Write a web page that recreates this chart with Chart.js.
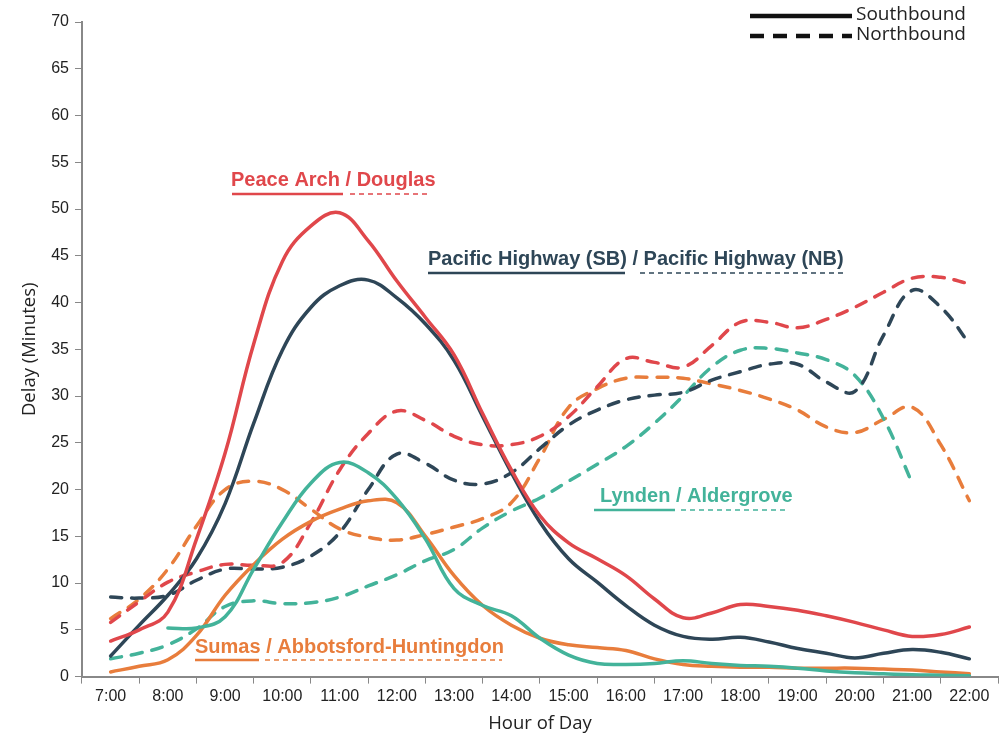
<!DOCTYPE html>
<html>
<head>
<meta charset="utf-8">
<script src="https://cdn.jsdelivr.net/npm/chart.js@4.4.1/dist/chart.umd.min.js"></script>
<style>
  html, body { margin: 0; padding: 0; background: #fff; }
  #wrap { width: 1005px; height: 740px; }
</style>
</head>
<body>
<div id="wrap"><canvas id="chart" width="1005" height="740"></canvas></div>
<script>
// 시간축 (30분 단위) ==========================
const times = [7, 7.5, 8, 8.5, 9, 9.5, 10, 10.5, 11, 11.5, 12, 12.5, 13, 13.5, 14, 14.5,
  15, 15.5, 16, 16.5, 17, 17.5, 18, 18.5, 19, 19.5, 20, 20.5, 21, 21.5, 22];
const hourLabels = ["7:00", "8:00", "9:00", "10:00", "11:00", "12:00", "13:00", "14:00",
  "15:00", "16:00", "17:00", "18:00", "19:00", "20:00", "21:00", "22:00"];

// Southbound (실선)
const peaceArchSB = [3.8, 5.0, 6.9, 14.7, 23.9, 35.6, 44.4, 48.2, 49.6, 46.6, 42.3, 38.4, 34.4, 28.1, 22.1, 17.2,
  14.3, 12.6, 10.8, 8.3, 6.3, 6.8, 7.7, 7.5, 7.1, 6.5, 5.8, 5.0, 4.3, 4.5, 5.3];
const pacificSB = [2.2, 5.5, 8.7, 12.6, 18.5, 27.1, 34.9, 39.5, 41.8, 42.4, 40.5, 37.7, 33.8, 27.8, 21.8, 16.5,
  12.6, 10.1, 7.6, 5.5, 4.3, 4.0, 4.2, 3.7, 3.0, 2.5, 2.0, 2.5, 2.9, 2.6, 1.9];
const lyndenSB = [null, null, 5.2, 5.2, 6.4, 11.5, 16.5, 20.7, 22.9, 21.8, 19.0, 14.7, 9.4, 7.6, 6.5, 4.1,
  2.3, 1.4, 1.3, 1.4, 1.7, 1.4, 1.2, 1.1, 0.9, 0.6, 0.4, 0.3, 0.2, 0.15, 0.1];
const sumasSB = [0.5, 1.1, 1.8, 4.4, 8.7, 12.0, 14.7, 16.6, 17.9, 18.8, 18.6, 15.0, 10.8, 7.6, 5.5, 4.1,
  3.4, 3.1, 2.8, 1.9, 1.3, 1.1, 1.0, 1.0, 0.9, 0.9, 0.9, 0.8, 0.7, 0.5, 0.3];

// Northbound (점선)
const douglasNB = [5.8, 8.0, 10.1, 11.2, 12.0, 11.9, 12.2, 16.5, 22.1, 26.0, 28.4, 27.4, 25.7, 24.8, 24.8, 25.7,
  27.8, 31.0, 34.0, 33.6, 33.1, 35.4, 37.9, 37.9, 37.3, 38.2, 39.5, 41.1, 42.6, 42.7, 42.0];
const pacificNB = [8.5, 8.4, 8.7, 10.3, 11.5, 11.5, 11.7, 12.9, 15.4, 20.0, 23.8, 22.8, 21.0, 20.6, 21.8, 24.4,
  26.9, 28.5, 29.6, 30.1, 30.4, 31.7, 32.6, 33.4, 33.4, 31.5, 30.5, 36.5, 41.3, 39.5, 35.6];
const aldergroveNB = [1.9, 2.5, 3.4, 5.1, 7.5, 8.1, 7.8, 7.9, 8.5, 9.7, 10.9, 12.4, 13.6, 15.9, 17.7, 19.1,
  20.9, 22.7, 24.6, 27.1, 30.0, 33.1, 34.9, 35.1, 34.6, 33.9, 32.2, 27.6, 20.7, null, null];
const abbotsfordNB = [6.2, 8.3, 11.5, 16.1, 20.0, 20.9, 20.0, 17.9, 15.8, 14.9, 14.6, 15.2, 16.0, 16.9, 18.6, 23.4,
  28.8, 30.8, 31.9, 32.0, 31.9, 31.3, 30.6, 29.7, 28.5, 26.7, 26.1, 27.5, 28.8, 24.8, 18.8];

const RED = "#E0474B";
const NAVY = "#2E4657";
const TEAL = "#43B39A";
const ORANGE = "#E87D3C";

function toPoints(values) {
  return values.map(function (v, i) { return { x: times[i], y: v }; });
}

function line(label, values, color, dashed) {
  return {
    label: label,
    data: toPoints(values),
    xAxisID: "xl",
    borderColor: color,
    borderWidth: 3.5,
    borderDash: dashed ? [11, 10] : [],
    borderCapStyle: "round",
    pointRadius: 0,
    tension: 0.4,
    fill: false,
    spanGaps: false,
  };
}

// 주석 라벨 + 범례 ==============================
const labelPlugin = {
  id: "labels",
  afterDatasetsDraw: function (chart) {
    const ctx = chart.ctx;
    ctx.save();
    const notes = [
      { a: "Peace Arch", b: "Douglas", color: RED, x: 231, y: 180, ua: [232, 343], ub: [350, 427], uy: 194 },
      { a: "Pacific Highway (SB)", b: "Pacific Highway (NB)", color: NAVY, x: 428, y: 259, ua: [428, 625], ub: [640, 843], uy: 273 },
      { a: "Lynden", b: "Aldergrove", color: TEAL, x: 600, y: 496, ua: [594, 675], ub: [681, 787], uy: 510 },
      { a: "Sumas", b: "Abbotsford-Huntingdon", color: ORANGE, x: 195, y: 647, ua: [195, 259], ub: [265, 502], uy: 660 },
    ];
    ctx.font = "bold 20px 'Liberation Sans', Arial, sans-serif";
    ctx.textBaseline = "middle";
    ctx.textAlign = "left";
    notes.forEach(function (n) {
      ctx.fillStyle = n.color;
      ctx.fillText(n.a + " / " + n.b, n.x, n.y);
      ctx.strokeStyle = n.color;
      ctx.lineWidth = 2.5;
      ctx.setLineDash([]);
      ctx.beginPath();
      ctx.moveTo(n.ua[0], n.uy);
      ctx.lineTo(n.ua[1], n.uy);
      ctx.stroke();
      ctx.lineWidth = 1.5;
      ctx.setLineDash([5, 4]);
      ctx.beginPath();
      ctx.moveTo(n.ub[0], n.uy);
      ctx.lineTo(n.ub[1], n.uy);
      ctx.stroke();
    });

    // 범례 (우측 상단)
    ctx.strokeStyle = "#111";
    ctx.lineWidth = 4.5;
    ctx.setLineDash([]);
    ctx.beginPath();
    ctx.moveTo(750, 16);
    ctx.lineTo(852, 16);
    ctx.stroke();
    ctx.setLineDash([14, 9]);
    ctx.beginPath();
    ctx.moveTo(750, 36);
    ctx.lineTo(852, 36);
    ctx.stroke();
    ctx.setLineDash([]);
    ctx.fillStyle = "#222";
    ctx.font = "19px 'Open Sans', sans-serif";
    ctx.fillText("Southbound", 856, 15);
    ctx.fillText("Northbound", 856, 35);
    ctx.restore();
  },
};

new Chart(document.getElementById("chart").getContext("2d"), {
  type: "line",
  data: {
    labels: hourLabels,
    datasets: [
      line("Peace Arch (SB)", peaceArchSB, RED, false),
      line("Pacific Highway (SB)", pacificSB, NAVY, false),
      line("Lynden (SB)", lyndenSB, TEAL, false),
      line("Sumas (SB)", sumasSB, ORANGE, false),
      line("Douglas (NB)", douglasNB, RED, true),
      line("Pacific Highway (NB)", pacificNB, NAVY, true),
      line("Aldergrove (NB)", aldergroveNB, TEAL, true),
      line("Abbotsford-Huntingdon (NB)", abbotsfordNB, ORANGE, true),
    ],
  },
  options: {
    responsive: false,
    animation: false,
    layout: { padding: { top: 22, right: 7, left: 15, bottom: 1 } },
    plugins: { legend: { display: false }, tooltip: { enabled: false } },
    scales: {
      x: {
        type: "category",
        offset: true,
        border: { color: "#888", width: 2 },
        grid: { display: true, drawOnChartArea: false, color: "#888", tickLength: 7, offset: true },
        ticks: { color: "#222", font: { family: "'Liberation Sans', Arial, sans-serif", size: 16 }, padding: 3, maxRotation: 0, autoSkip: false },
        title: { display: true, text: "Hour of Day", color: "#222", font: { family: "'Open Sans', sans-serif", size: 18.5 }, padding: { top: 4 } },
      },
      xl: {
        type: "linear",
        display: false,
        min: 6.5,
        max: 22.5,
      },
      y: {
        min: 0,
        max: 70,
        border: { color: "#888", width: 2 },
        grid: { display: true, drawOnChartArea: false, color: "#888", tickLength: 7 },
        ticks: { stepSize: 5, color: "#222", font: { family: "'Liberation Sans', Arial, sans-serif", size: 16 }, padding: 6 },
        title: { display: true, text: "Delay (Minutes)", color: "#222", font: { family: "'Open Sans', sans-serif", size: 18.5 }, padding: { bottom: 4 } },
      },
    },
  },
  plugins: [labelPlugin],
});
</script>
</body>
</html>
